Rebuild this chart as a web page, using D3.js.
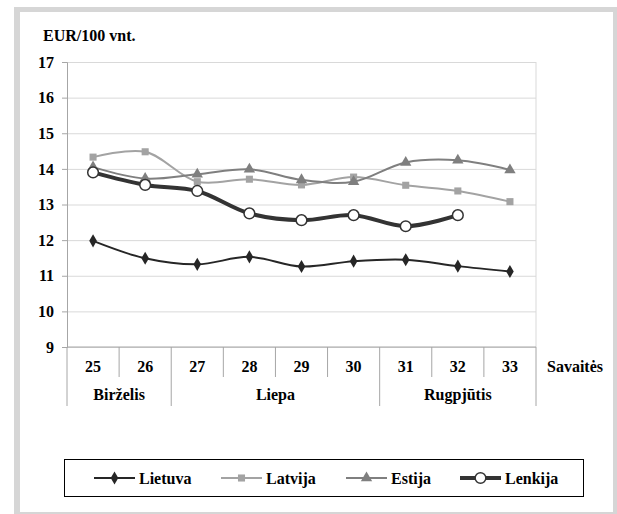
<!DOCTYPE html>
<html>
<head>
<meta charset="utf-8">
<script src="https://cdn.jsdelivr.net/npm/d3@7/dist/d3.min.js"></script>
<style>
  body { margin: 0; background: #fff; }
  text { font-family: "Liberation Serif", "Times New Roman", serif; font-weight: bold; fill: #000; }
</style>
</head>
<body>
<svg id="chart" width="617" height="514"></svg>
<script>

let weeks = ["25", "26", "27", "28", "29", "30", "31", "32", "33"];
let months = [
    {name: "Birželis", from: "25", to: "26"},
    {name: "Liepa", from: "27", to: "30"},
    {name: "Rugpjūtis", from: "31", to: "33"}
];
let yTicks = [9, 10, 11, 12, 13, 14, 15, 16, 17];

let lietuva = [11.98, 11.49, 11.32, 11.53, 11.26, 11.41, 11.45, 11.27, 11.12];
let latvija = [14.33, 14.48, 13.64, 13.71, 13.55, 13.77, 13.54, 13.38, 13.08];
let estija  = [14.05, 13.73, 13.85, 13.99, 13.69, 13.64, 14.18, 14.24, 13.97];
let lenkija = [13.90, 13.55, 13.38, 12.75, 12.56, 12.70, 12.39, 12.70, null];

let series = [
    {name: "Lietuva", values: lietuva, color: "#262626", width: 2, marker: "diamond"},
    {name: "Latvija", values: latvija, color: "#a3a3a3", width: 2, marker: "square"},
    {name: "Estija", values: estija, color: "#7f7f7f", width: 2, marker: "triangle"},
    {name: "Lenkija", values: lenkija, color: "#333333", width: 4, marker: "circle"}
];

function makeChart(id) {
    let width = 617;
    let height = 514;
    let margins = {top: 62, right: 81, bottom: 167, left: 67};
    let innerWidth = width - margins.left - margins.right;
    let innerHeight = height - margins.top - margins.bottom;

    let chart = d3.select("#" + id);

    // grey frame round the picture
    chart.append("rect").attr("x", 14).attr("y", 7).attr("width", 603).attr("height", 507)
        .style("fill", "#d6d6d6");
    chart.append("rect").attr("x", 20).attr("y", 12).attr("width", 593).attr("height", 500)
        .style("fill", "white");

    let xScale = d3.scaleBand().domain(weeks).range([0, innerWidth]).padding(0);
    let yScale = d3.scaleLinear().domain([9, 17]).range([innerHeight, 0]);

    let g = chart.append("g").attr("transform", `translate(${margins.left},${margins.top})`);

    // gridlines
    g.append("g")
        .call(d3.axisLeft(yScale).tickValues(yTicks).tickSize(-innerWidth).tickFormat(""))
        .call(a => a.select(".domain").remove())
        .call(a => a.selectAll("line").style("stroke", "#d9d9d9"));
    g.append("line").attr("x1", innerWidth).attr("x2", innerWidth).attr("y1", 0).attr("y2", innerHeight)
        .style("stroke", "#d9d9d9");

    // y axis
    let yAxis = g.append("g")
        .call(d3.axisLeft(yScale).tickValues(yTicks).tickSize(5).tickPadding(8).tickFormat(d3.format("d")));
    yAxis.select(".domain").style("stroke", "#a6a6a6");
    yAxis.selectAll("line").style("stroke", "#a6a6a6");
    yAxis.selectAll("text").style("font-size", "16px").style("font-family", "Liberation Serif").style("font-weight", "bold");

    // x axis: week row and month row
    g.append("line").attr("x1", 0).attr("x2", innerWidth).attr("y1", innerHeight).attr("y2", innerHeight)
        .style("stroke", "#a6a6a6");
    let monthEdges = new Set([weeks[0]].concat(months.map(m => m.from)));
    let edges = weeks.map(w => ({x: xScale(w), long: monthEdges.has(w)}));
    edges.push({x: innerWidth, long: true});
    g.selectAll(".sep").data(edges).enter().append("line").attr("class", "sep")
        .attr("x1", d => d.x).attr("x2", d => d.x)
        .attr("y1", innerHeight)
        .attr("y2", d => innerHeight + (d.long ? 59 : 30))
        .style("stroke", "#a6a6a6");

    g.selectAll(".wk").data(weeks).enter().append("text").attr("class", "wk")
        .attr("x", d => xScale(d) + xScale.bandwidth() / 2)
        .attr("y", innerHeight + 25)
        .attr("text-anchor", "middle")
        .style("font-size", "16px")
        .text(d => d);

    g.selectAll(".mo").data(months).enter().append("text").attr("class", "mo")
        .attr("x", d => (xScale(d.from) + xScale(d.to) + xScale.bandwidth()) / 2)
        .attr("y", innerHeight + 53)
        .attr("text-anchor", "middle")
        .style("font-size", "16px")
        .text(d => d.name);

    g.append("text").attr("x", innerWidth + 39).attr("y", innerHeight + 25)
        .attr("text-anchor", "middle").style("font-size", "16px").text("Savaitės");

    chart.append("text").attr("x", 43).attr("y", 41).style("font-size", "16px").text("EUR/100 vnt.");

    let symbols = {
        diamond: d3.symbol().type(d3.symbolDiamond).size(50),
        square: d3.symbol().type(d3.symbolSquare).size(50),
        triangle: d3.symbol().type(d3.symbolTriangle).size(56),
        circle: d3.symbol().type(d3.symbolCircle).size(90)
    };

    let line = d3.line()
        .defined(d => d != null)
        .x((d, i) => xScale(weeks[i]) + xScale.bandwidth() / 2)
        .y(d => yScale(d))
        .curve(d3.curveCatmullRom.alpha(0.5));

    series.forEach(s => {
        g.append("path").datum(s.values)
            .attr("d", line)
            .style("fill", "none")
            .style("stroke", s.color)
            .style("stroke-width", s.width);
        let pts = s.values.map((v, i) => ({v: v, w: weeks[i]})).filter(d => d.v != null);
        g.selectAll(".m-" + s.name).data(pts).enter().append("path").attr("class", "m-" + s.name)
            .attr("transform", d => `translate(${xScale(d.w) + xScale.bandwidth() / 2},${yScale(d.v)})`)
            .attr("d", symbols[s.marker])
            .style("fill", s.marker == "circle" ? "white" : s.color)
            .style("stroke", s.marker == "circle" ? s.color : "none")
            .style("stroke-width", 1.5);
    });

    // legend
    chart.append("rect").attr("x", 64.5).attr("y", 459.5).attr("width", 519).attr("height", 37)
        .style("fill", "white").style("stroke", "#000").style("stroke-width", 1);
    let legendX = [94, 221, 346, 460];
    let item = chart.selectAll(".leg").data(series).enter().append("g").attr("class", "leg")
        .attr("transform", (d, i) => `translate(${legendX[i]},478)`);
    item.append("line").attr("x1", 0).attr("x2", 41).attr("y1", 0).attr("y2", 0)
        .style("stroke", d => d.color).style("stroke-width", d => d.width);
    item.append("path").attr("transform", "translate(20.5,0)")
        .attr("d", d => symbols[d.marker]())
        .style("fill", d => d.marker == "circle" ? "white" : d.color)
        .style("stroke", d => d.marker == "circle" ? d.color : "none")
        .style("stroke-width", 1.5);
    item.append("text").attr("x", 45).attr("y", 5.5).style("font-size", "16px").text(d => d.name);
}

makeChart("chart");
</script>
</body>
</html>
